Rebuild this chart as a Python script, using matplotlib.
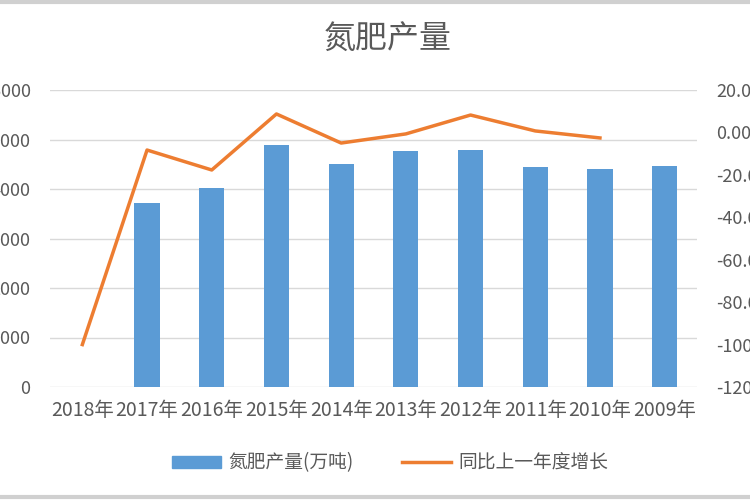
import numpy as np
import matplotlib
matplotlib.use("Agg")
from matplotlib import pyplot as plt
from matplotlib.lines import Line2D
from matplotlib.ticker import FuncFormatter

plt.rcParams['font.family'] = ['Noto Sans CJK SC', 'DejaVu Sans']

# данные
years = ["2018年", "2017年", "2016年", "2015年", "2014年", "2013年", "2012年", "2011年", "2010年", "2009年"]
output = [np.nan, 3720, 4020, 4880, 4500, 4760, 4780, 4440, 4400, 4460]  # 万吨
growth = [-100.0, -8.3, -17.7, 8.7, -5.0, -0.7, 8.2, 0.7, -2.6, np.nan]  # %

grey = "#595959"
fig = plt.figure(figsize=(7.5, 5), dpi=100)
ax = fig.add_axes([50 / 750, 1 - 387 / 500, 647 / 750, 297 / 500])
x = np.arange(len(years))

ax.bar(x, output, width=0.39, color="#5B9BD5", zorder=3, label="氮肥产量(万吨)")
ax.set_xlim(-0.5, len(years) - 0.5)
ax.set_ylim(0, 6000)
ax.set_yticks(range(0, 6001, 1000))
ax.grid(axis="y", color="#D9D9D9", linewidth=1, zorder=0)
ax.set_xticks(x, years)
for s in ax.spines.values():
    s.set_visible(False)
ax.tick_params(axis="both", length=0, labelsize=13, colors=grey)
ax.tick_params(axis="y", pad=14)
ax.tick_params(axis="x", pad=9, labelsize=14)

ax2 = ax.twinx()
ax2.plot(x, growth, color="#ED7D31", linewidth=2.5, zorder=4)
ax2.set_ylim(-120, 20)
ax2.set_yticks(range(-120, 21, 20))
ax2.yaxis.set_major_formatter(FuncFormatter(lambda v, p: f"{v:.2f}%"))
for s in ax2.spines.values():
    s.set_visible(False)
ax2.tick_params(axis="y", length=0, labelsize=13, colors=grey, pad=14)

fig.text(388 / 750, 1 - 40 / 500, "氮肥产量", ha="center", va="center", fontsize=23, color=grey)

handles = [plt.Rectangle((0, 0), 1, 1, color="#5B9BD5"),
           Line2D([0], [0], color="#ED7D31", linewidth=2.5)]
fig.legend(handles, ["氮肥产量(万吨)", "同比上一年度增长"], loc="center",
           bbox_to_anchor=(390 / 750, 1 - 463 / 500), ncol=2, frameon=False,
           fontsize=13.5, labelcolor=grey, handlelength=2.6, handleheight=0.6,
           columnspacing=2.6, handletextpad=0.4)

# рамка исходной картинки сверху и снизу
fig.add_artist(Line2D([0, 1], [0.997, 0.997], color="#D0D0D0", linewidth=3))
fig.add_artist(Line2D([0, 1], [0.006, 0.006], color="#D0D0D0", linewidth=3))

fig.savefig("out.png", dpi=100)
